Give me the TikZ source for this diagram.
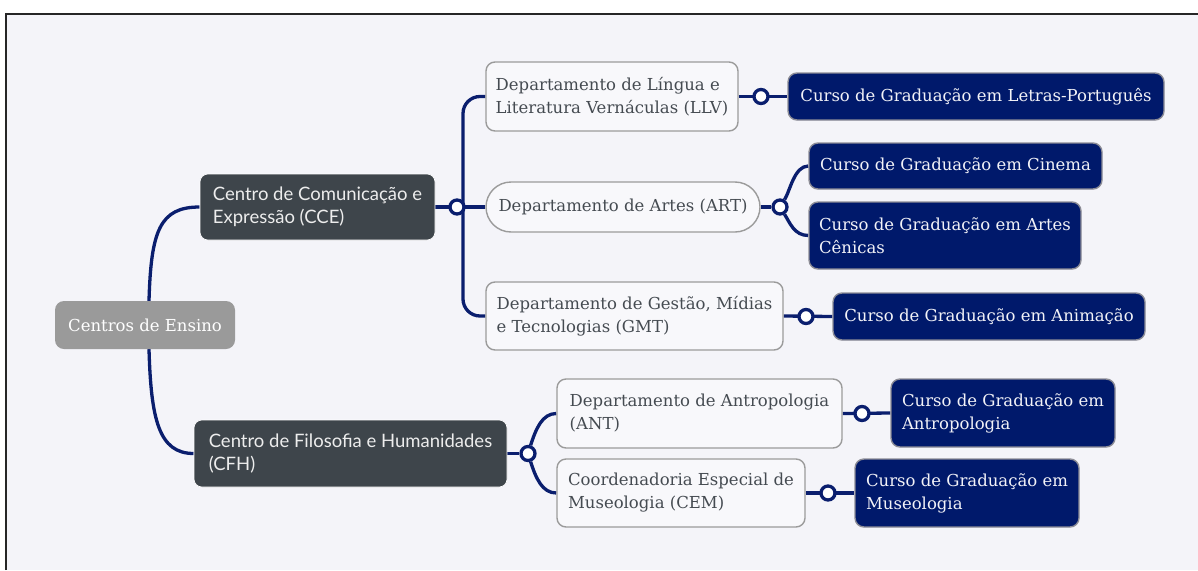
\documentclass[tikz,border=0pt]{standalone}
\usepackage{fontspec}
\setmainfont{DejaVu Serif}
\newfontfamily\hubfamily{Lato}
\usetikzlibrary{calc}

\definecolor{canvas}{HTML}{F4F4F9}
\definecolor{navy}{HTML}{0A1E6E}
\definecolor{navyfill}{HTML}{00196B}
\definecolor{deptfill}{HTML}{F8F8FB}
\definecolor{deptborder}{HTML}{9B9B9B}
\definecolor{depttext}{HTML}{454B51}
\definecolor{hubfill}{HTML}{3E454B}
\definecolor{hubtext}{HTML}{EDEDED}
\definecolor{rootfill}{HTML}{9A9A9A}
\definecolor{coursetext}{HTML}{F2F2F7}
\definecolor{courseborder}{HTML}{8C8C96}

\newcommand\serifsize{\fontsize{16.5}{23}\selectfont}
\newcommand\hubsize{\hubfamily\fontsize{18.5}{23}\selectfont}

\pgfdeclarelayer{back}
\pgfsetlayers{back,main}

\begin{document}
\begin{tikzpicture}[x=1pt,y=-1pt,
  conn/.style={draw=navy, line width=3.3pt},
  rootbox/.style={fill=rootfill, rounded corners=9pt, text=white, font=\serifsize,
    inner sep=0pt, align=left},
  hub/.style={fill=hubfill, draw=white, line width=0.6pt, rounded corners=8pt, text=hubtext,
    font=\hubsize, inner sep=0pt, align=left},
  dept/.style={draw=deptborder, fill=deptfill, line width=1.4pt, rounded corners=9pt,
    text=depttext, font=\serifsize, inner sep=0pt, align=left},
  course/.style={draw=courseborder, fill=navyfill, line width=1.4pt, rounded corners=9pt,
    text=coursetext, font=\serifsize, inner sep=0pt, align=left},
  knob/.style={circle, draw=navy, fill=white, line width=3.3pt, minimum size=14pt, inner sep=0pt},
  box/.style 2 args={minimum width=#1pt, minimum height=#2pt}
]
\useasboundingbox (0,0) rectangle (1198,570);

% root and centres
\node[rootbox, box={180}{48}] (root) at (145,325) {Centros de Ensino};
\node[hub, box={235}{66}] (cce) at (317.5,207) {Centro de Comunicação e\\Expressão (CCE)};
\node[hub, box={313}{67}] (cfh) at (350.5,453.5) {Centro de Filosofia e Humanidades\\(CFH)};

% departments
\node[dept, box={252}{69}] (llv) at (612,96.5) {Departamento de Língua e\\Literatura Vernáculas (LLV)};
\node[dept, box={274}{50}, rounded corners=25pt] (art) at (623,207) {Departamento de Artes (ART)};
\node[dept, box={297}{68}] (gmt) at (634.5,316) {Departamento de Gestão, Mídias\\e Tecnologias (GMT)};
\node[dept, box={285}{69}] (ant) at (699.5,413.5) {Departamento de Antropologia\\(ANT)};
\node[dept, box={248}{68}] (cem) at (681,493) {Coordenadoria Especial de\\Museologia (CEM)};

% courses
\node[course, box={376}{47}] (letras) at (976,96.5) {Curso de Graduação em Letras-Português};
\node[course, box={293}{46}] (cinema) at (955.5,166) {Curso de Graduação em Cinema};
\node[course, box={272}{67}] (cenicas) at (945,235.5) {Curso de Graduação em Artes\\Cênicas};
\node[course, box={312}{47}] (animacao) at (989,316.5) {Curso de Graduação em Animação};
\node[course, box={224}{68}] (antrop) at (1003,413) {Curso de Graduação em\\Antropologia};
\node[course, box={224}{68}] (museo) at (967,493) {Curso de Graduação em\\Museologia};

% junction knobs
\node[knob] (k1) at (457,207) {};
\node[knob] (k2) at (761,96.5) {};
\node[knob] (k3) at (780,207) {};
\node[knob] (k4) at (806,316.5) {};
\node[knob] (k5) at (528,453.5) {};
\node[knob] (k6) at (862,413.5) {};
\node[knob] (k7) at (828,493) {};

\begin{pgfonlayer}{back}
  % canvas and frame
  \fill[canvas] (6,14) rectangle (1198,570);
  \draw[black!85, line width=2pt] (6,570) -- (6,14) -- (1198,14);

  % root to centres
  \draw[conn] ($(root.north)+(4,0)$) .. controls +(2,-70) and +(-40,0) .. (cce.west);
  \draw[conn] ($(root.south)+(4,0)$) .. controls +(2,70) and +(-35,0) .. (cfh.west);

  % CCE to its departments
  \draw[conn] (cce.east) -- (art.west);
  \draw[conn, rounded corners=17pt] ($(k1)+(6,0)$) |- (llv.west);
  \draw[conn, rounded corners=17pt] ($(k1)+(6,0)$) |- (gmt.west);

  % departments to courses
  \draw[conn] (llv.east) -- (letras.west);
  \draw[conn] (art.east) -- (k3);
  \draw[conn] (k3) .. controls +(10,-16) and +(-14,0) .. (cinema.west);
  \draw[conn] (k3) .. controls +(10,16) and +(-14,0) .. (cenicas.west);
  \draw[conn] (gmt.east) -- (animacao.west);

  % CFH to its departments
  \draw[conn] (cfh.east) -- (k5);
  \draw[conn] (k5) .. controls +(8,-25) and +(-14,0) .. (ant.west);
  \draw[conn] (k5) .. controls +(8,25) and +(-14,0) .. (cem.west);
  \draw[conn] (ant.east) -- (antrop.west);
  \draw[conn] (cem.east) -- (museo.west);
\end{pgfonlayer}
\end{tikzpicture}
\end{document}
